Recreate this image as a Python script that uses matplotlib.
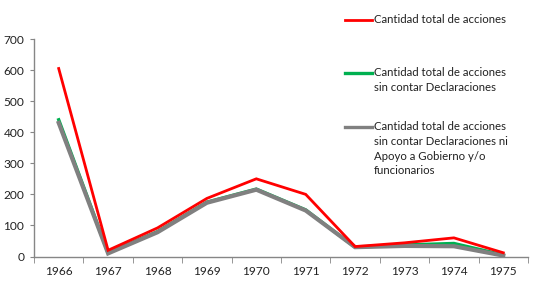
import matplotlib
matplotlib.use("Agg")
import matplotlib.pyplot as plt
from matplotlib.lines import Line2D
import numpy as np

years = ["1966", "1967", "1968", "1969", "1970", "1971", "1972", "1973", "1974", "1975"]
total = [605, 20, 92, 187, 250, 200, 32, 44, 60, 12]
sin_decl = [440, 12, 80, 175, 217, 150, 30, 37, 42, 5]
sin_decl_apoyo = [430, 10, 78, 173, 215, 148, 30, 34, 33, 3]
yticks = [0, 100, 200, 300, 400, 500, 600, 700]

labels = ["Cantidad total de acciones",
          "Cantidad total de acciones\nsin contar Declaraciones",
          "Cantidad total de acciones\nsin contar Declaraciones ni\nApoyo a Gobierno y/o\nfuncionarios"]
colors = ["#FF0000", "#00B050", "#808080"]
widths = [2.0, 2.4, 3.0]

plt.rcParams['font.family'] = ['Lato', 'DejaVu Sans']

fig = plt.figure(figsize=(5.33, 2.82), dpi=100)
ax = fig.add_axes([34/533, 1 - 256.5/282, (528 - 34)/533, (256.5 - 39)/282])

x = np.arange(len(years))
ax.plot(x, total, color=colors[0], lw=widths[0], solid_joinstyle='miter', zorder=4)
ax.plot(x, sin_decl, color=colors[1], lw=widths[1], solid_joinstyle='miter', zorder=2)
ax.plot(x, sin_decl_apoyo, color=colors[2], lw=widths[2], solid_joinstyle='miter', zorder=3)

ax.set_xlim(-0.5, len(years) - 0.5)
ax.set_ylim(0, 700)
ax.set_yticks(yticks)
ax.set_yticklabels([str(v) for v in yticks], fontsize=8.6, color="#222222")
ax.set_xticks(x)
ax.set_xticklabels(years, fontsize=8.6, color="#222222")
ax.set_xticks(np.arange(-0.5, len(years)), minor=True)
ax.tick_params(axis='x', which='major', length=0, pad=7)
ax.tick_params(axis='x', which='minor', length=4, color="#868686", direction='out')
ax.tick_params(axis='y', length=3, color="#868686", direction='out', pad=4)
for s in ['top', 'right']:
    ax.spines[s].set_visible(False)
for s in ['left', 'bottom']:
    ax.spines[s].set_color("#868686")
    ax.spines[s].set_linewidth(1.0)

# legend drawn manually
legend_y = [20, 73, 127]
for lab, c, w, yy in zip(labels, colors, widths, legend_y):
    fig.add_artist(Line2D([345/533, 372/533], [1 - yy/282, 1 - yy/282],
                          color=c, lw=w if c != "#808080" else 2.4, transform=fig.transFigure))
    fig.text(374/533, 1 - (yy - 6)/282, lab, fontsize=8.2, color="#222222",
             va='top', ha='left', linespacing=1.42)

fig.savefig("out.png", dpi=100)
